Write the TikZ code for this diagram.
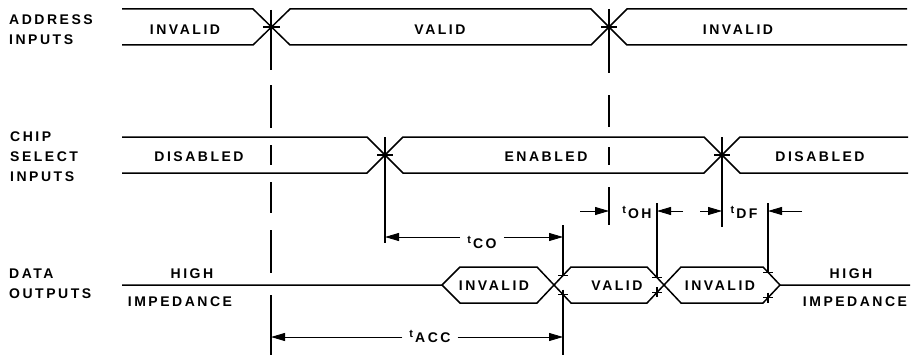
\documentclass[tikz,border=0pt]{standalone}
\usepackage{fontspec}
\newfontfamily\lettering[LetterSpace=18]{Liberation Sans Bold}
\usetikzlibrary{arrows.meta}
\newcommand{\tsub}[1]{\raisebox{5pt}{\fontsize{11}{11}\selectfont t}\hspace{2pt}#1}

\begin{document}
\begin{tikzpicture}[x=1pt, y=-1pt, line join=miter,
	band/.style={line width=1.5pt},
	tick/.style={line width=1.3pt},
	dim/.style={line width=0.9pt, -{Triangle[length=14pt,width=8pt]}},
	lbl/.style={font=\lettering\fontsize{14}{20}\selectfont, inner sep=0pt},
	side/.style={lbl, anchor=base west, align=left},
	tlbl/.style={lbl, anchor=base, inner xsep=7pt}]
		\useasboundingbox (0,0) rectangle (915,361);
		% row names (base is the last line)
		\node[side] (addr) at (9,45) {ADDRESS\\INPUTS};
		\node[side] (chip) at (10,181) {CHIP\\SELECT\\INPUTS};
		\node[side] (dout) at (9,298) {DATA\\OUTPUTS};
		
		% address inputs
		\draw[band] (122,9) -- (253,9) -- (290,45) -- (591,45) -- (627,9) -- (907,9);
		\draw[band] (122,45) -- (253,45) -- (290,9) -- (591,9) -- (627,45) -- (907,45);
		\draw[tick] (263,27) -- (280,27) (601,27) -- (617,27);
		\node[lbl] (a-inv1) at (185,30) {INVALID};
		\node[lbl] (a-val) at (440,30) {VALID};
		\node[lbl] (a-inv2) at (738,30) {INVALID};
		
		% chip select inputs
		\draw[band] (122,137) -- (367,137) -- (403,173) -- (704,173) -- (740,137) -- (908,137);
		\draw[band] (122,173) -- (367,173) -- (403,137) -- (704,137) -- (740,173) -- (908,173);
		\draw[tick] (377,155) -- (393,155) (714,155) -- (730,155);
		\node[lbl] (c-dis1) at (199,157) {DISABLED};
		\node[lbl] (c-en) at (546,157) {ENABLED};
		\node[lbl] (c-dis2) at (820,157) {DISABLED};
		
		% data outputs
		\draw[band] (122,285) -- (442,285) -- (460,267) -- (537,267) -- (571,303) -- (647,303) -- (681,267) -- (763,267) -- (780,285) -- (910,285);
		\draw[band] (442,285) -- (460,303) -- (537,303) -- (571,267) -- (647,267) -- (681,303) -- (763,303) -- (780,285);
		\node[lbl] (d-inv1) at (494,286) {INVALID};
		\node[lbl] (d-val) at (617,286) {VALID};
		\node[lbl] (d-inv2) at (720,286) {INVALID};
		\node[lbl] (hi1) at (192,274) {HIGH};
		\node[lbl] (imp1) at (180,302) {IMPEDANCE};
		\node[lbl] (hi2) at (851,274) {HIGH};
		\node[lbl] (imp2) at (855,302) {IMPEDANCE};
		
		% reference lines
		\draw[tick] (271,10) -- (271,70) (271,85) -- (271,128) (271,145) -- (271,165)
			(271,182) -- (271,213) (271,230) -- (271,273) (271,295) -- (271,355);
		\draw[tick] (609,9) -- (609,73) (609,95) -- (609,127) (609,147) -- (609,165) (609,187) -- (609,225);
		\draw[tick] (385,137) -- (385,243);
		\draw[tick] (722,137) -- (722,227);
		\draw[tick] (563,225) -- (563,275.5) (563,294.5) -- (563,355);
		\draw[tick] (657,203) -- (657,277.6);
		\draw[tick] (768,203) -- (768,272.3);
		% small crosses on the data edges
		\draw[tick] (558,275.5) -- (568,275.5) (558,294.5) -- (568,294.5) (563,289.5) -- (563,299.5);
		\draw[tick] (652,277.6) -- (662,277.6) (652,292.4) -- (662,292.4) (657,287.4) -- (657,297.4);
		\draw[tick] (763,272.3) -- (773,272.3) (763,297.7) -- (773,297.7) (768,292.7) -- (768,302.7);
		
		% timing
		\coordinate (co-l) at (385,237);
		\coordinate (co-r) at (563,237);
		\node[tlbl] (tco) at (482,248) {\tsub{CO}};
		\draw[dim] (tco.west |- co-l) -- (co-l);
		\draw[dim] (tco.east |- co-r) -- (co-r);
		
		\coordinate (acc-l) at (271,337);
		\coordinate (acc-r) at (563,337);
		\node[tlbl] (tacc) at (430,342) {\tsub{ACC}};
		\draw[dim] (tacc.west |- acc-l) -- (acc-l);
		\draw[dim] (tacc.east |- acc-r) -- (acc-r);
		
		\coordinate (oh-lo) at (580,211);
		\coordinate (oh-l) at (609,211);
		\coordinate (oh-r) at (657,211);
		\coordinate (oh-ro) at (683,211);
		\node[tlbl] (toh) at (637,218) {\tsub{OH}};
		\draw[dim] (oh-lo) -- (oh-l);
		\draw[dim] (oh-ro) -- (oh-r);
		
		\coordinate (df-lo) at (700,211);
		\coordinate (df-l) at (722,211);
		\coordinate (df-r) at (768,211);
		\coordinate (df-ro) at (802,211);
		\node[tlbl] (tdf) at (744,218) {\tsub{DF}};
		\draw[dim] (df-lo) -- (df-l);
		\draw[dim] (df-ro) -- (df-r);
	\end{tikzpicture}
\end{document}
